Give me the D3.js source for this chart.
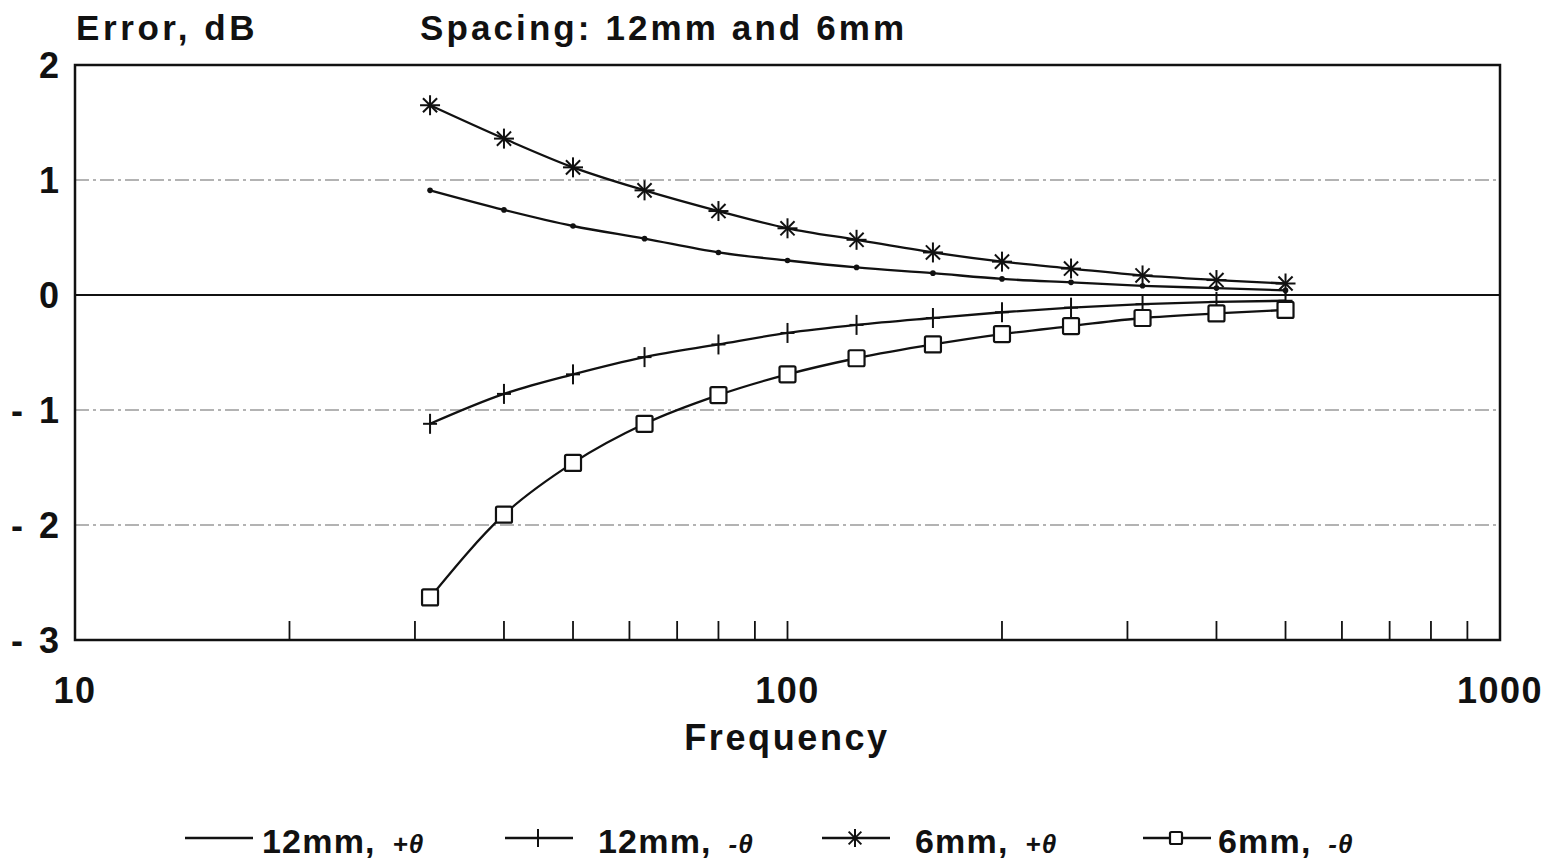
<!DOCTYPE html>
<html>
<head>
<meta charset="utf-8">
<script src="https://cdn.jsdelivr.net/npm/d3@7"></script>
<style>
  body { margin: 0; background: #fff; }
  text { font-family: "Liberation Sans", Arial, sans-serif; font-weight: bold; fill: #111; }
</style>
</head>
<body>
<svg id="chart" width="1561" height="867"></svg>
<script>
// third-octave band centres, Hz
const freqs = [31.5, 40, 50, 63, 80, 100, 125, 160, 200, 250, 315, 400, 500];

// error in dB
const pos12 = [0.91, 0.74, 0.60, 0.49, 0.37, 0.30, 0.24, 0.19, 0.14, 0.11, 0.08, 0.06, 0.04];
const neg12 = [-1.12, -0.86, -0.69, -0.54, -0.43, -0.33, -0.26, -0.20, -0.15, -0.11, -0.08, -0.06, -0.05];
const pos6 = [1.65, 1.36, 1.11, 0.91, 0.73, 0.58, 0.48, 0.37, 0.29, 0.23, 0.17, 0.13, 0.10];
const neg6 = [-2.63, -1.91, -1.46, -1.12, -0.87, -0.69, -0.55, -0.43, -0.34, -0.27, -0.20, -0.16, -0.13];

const yTicks = [2, 1, 0, -1, -2, -3];
const gridValues = [1, -1, -2];
const xLabels = [10, 100, 1000];
const legendLabels = ["12mm, ", "12mm, ", "6mm, ", "6mm, "];
const legendSigns = ["+\u03b8", "-\u03b8", "+\u03b8", "-\u03b8"];

const svg = d3.select("#chart");

const plotLeft = 75, plotRight = 1500, plotTop = 65, plotBottom = 640;

const x = d3.scaleLog().domain([10, 1000]).range([plotLeft, plotRight]);
const y = d3.scaleLinear().domain([-3, 2]).range([plotBottom, plotTop]);

// dash-dot grid lines
svg.append("g")
    .selectAll("line")
    .data(gridValues)
    .enter()
    .append("line")
    .attr("x1", plotLeft)
    .attr("x2", plotRight)
    .attr("y1", (d) => y(d))
    .attr("y2", (d) => y(d))
    .attr("stroke", "#9a9a9a")
    .attr("stroke-width", 1.6)
    .attr("stroke-dasharray", "14,4,3,4");

// zero line
svg.append("line")
    .attr("x1", plotLeft).attr("x2", plotRight)
    .attr("y1", y(0)).attr("y2", y(0))
    .attr("stroke", "#111")
    .attr("stroke-width", 2.2);

// frame
svg.append("rect")
    .attr("x", plotLeft).attr("y", plotTop)
    .attr("width", plotRight - plotLeft).attr("height", plotBottom - plotTop)
    .attr("fill", "none")
    .attr("stroke", "#111")
    .attr("stroke-width", 2.5);

// minor ticks along the bottom, pointing inward
const minorTicks = x.ticks().filter((d) => d > 10 && d < 1000);
svg.append("g")
    .selectAll("line")
    .data(minorTicks)
    .enter()
    .append("line")
    .attr("x1", (d) => x(d))
    .attr("x2", (d) => x(d))
    .attr("y1", plotBottom)
    .attr("y2", plotBottom - 19)
    .attr("stroke", "#111")
    .attr("stroke-width", 1.8);

// y labels
svg.append("g")
    .selectAll("text")
    .data(yTicks)
    .enter()
    .append("text")
    .attr("x", 62)
    .attr("y", (d) => y(d) + 13)
    .attr("text-anchor", "end")
    .attr("font-size", 36)
    .attr("letter-spacing", 3)
    .attr("xml:space", "preserve")
    .text((d) => (d < 0 ? "- " + Math.abs(d) : d));

// x labels
svg.append("g")
    .selectAll("text")
    .data(xLabels)
    .enter()
    .append("text")
    .attr("x", (d) => x(d))
    .attr("y", 703)
    .attr("text-anchor", "middle")
    .attr("font-size", 36)
    .attr("letter-spacing", 1.5)
    .text((d) => d);

svg.append("text")
    .attr("x", 787).attr("y", 750)
    .attr("text-anchor", "middle")
    .attr("font-size", 36)
    .attr("letter-spacing", 2.6)
    .text("Frequency");

svg.append("text")
    .attr("x", 76).attr("y", 40)
    .attr("font-size", 35)
    .attr("letter-spacing", 3.6)
    .text("Error, dB");

svg.append("text")
    .attr("x", 420).attr("y", 40)
    .attr("font-size", 35)
    .attr("letter-spacing", 3.1)
    .text("Spacing: 12mm and 6mm");

// marker drawers
function drawMarker(g, type, cx, cy, s) {
    if (type === "dot") {
        g.append("circle").attr("cx", cx).attr("cy", cy).attr("r", 2.8 * s).attr("fill", "#111");
    } else if (type === "plus") {
        g.append("line").attr("x1", cx).attr("x2", cx).attr("y1", cy - 10 * s).attr("y2", cy + 10 * s)
            .attr("stroke", "#111").attr("stroke-width", 2);
        g.append("line").attr("x1", cx - 7 * s).attr("x2", cx + 7 * s).attr("y1", cy).attr("y2", cy)
            .attr("stroke", "#111").attr("stroke-width", 2);
    } else if (type === "star") {
        const r = 10 * s;
        [0, 45, 90, 135].forEach((a) => {
            const rad = (a * Math.PI) / 180;
            g.append("line")
                .attr("x1", cx - r * Math.cos(rad)).attr("y1", cy - r * Math.sin(rad))
                .attr("x2", cx + r * Math.cos(rad)).attr("y2", cy + r * Math.sin(rad))
                .attr("stroke", "#111").attr("stroke-width", 2);
        });
    } else if (type === "square") {
        const h = 8 * s;
        g.append("rect").attr("x", cx - h).attr("y", cy - h).attr("width", 2 * h).attr("height", 2 * h)
            .attr("rx", 1.5)
            .attr("fill", "#fff").attr("stroke", "#111").attr("stroke-width", 2.2);
    }
}

const series = [
    { values: pos12, marker: "dot" },
    { values: neg12, marker: "plus" },
    { values: pos6, marker: "star" },
    { values: neg6, marker: "square" }
];

const line = d3.line()
    .x((d) => x(d[0]))
    .y((d) => y(d[1]))
    .curve(d3.curveMonotoneX);

series.forEach((s) => {
    const pts = freqs.map((f, i) => [f, s.values[i]]);
    const g = svg.append("g");
    g.append("path")
        .attr("d", line(pts))
        .attr("fill", "none")
        .attr("stroke", "#111")
        .attr("stroke-width", 2.3);
    pts.forEach((p) => drawMarker(g, s.marker, x(p[0]), y(p[1]), 1));
});

// legend
const legendX = [185, 505, 822, 1143];
const legendY = 838;
const legendScale = [1, 0.9, 0.9, 0.75];
series.forEach((s, i) => {
    const g = svg.append("g");
    const x0 = legendX[i];
    g.append("line")
        .attr("x1", x0).attr("x2", x0 + 68)
        .attr("y1", legendY).attr("y2", legendY)
        .attr("stroke", "#111").attr("stroke-width", 2.4);
    if (s.marker !== "dot") drawMarker(g, s.marker, x0 + 33, legendY, legendScale[i]);
    const t = g.append("text")
        .attr("x", x0 + (i === 0 ? 77 : i === 3 ? 75 : 93))
        .attr("y", 853)
        .attr("font-size", 34)
        .attr("letter-spacing", 1.2);
    t.append("tspan").text(legendLabels[i]);
    t.append("tspan")
        .attr("font-size", 26)
        .attr("font-style", "italic")
        .attr("dx", 6)
        .text(legendSigns[i]);
});
</script>
</body>
</html>
